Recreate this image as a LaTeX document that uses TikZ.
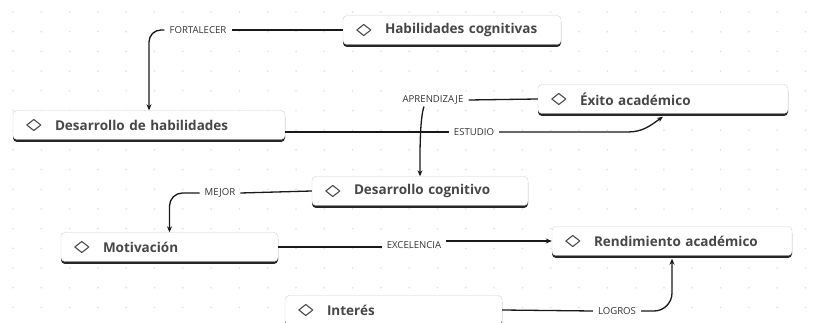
\documentclass[tikz,border=0pt]{standalone}
\usepackage{fontspec}
\setmainfont{Open Sans}
\usetikzlibrary{arrows.meta,shadows}

\tikzset{
  box/.style={draw=black!18, fill=white, rounded corners=4pt, minimum height=29pt,
    inner xsep=13pt, align=left, text=black!72,
    font=\bfseries\fontsize{13.5}{15}\selectfont,
    drop shadow={shadow xshift=0pt, shadow yshift=-2.5pt, fill=black!85, opacity=1}},
  lbl/.style={inner xsep=5pt, inner ysep=2pt, text=black!80, font=\fontsize{9.6}{11}\selectfont},
  conn/.style={draw=black!90, line width=1.3pt},
  arr/.style={conn, -{Stealth[length=6pt,width=5pt]}},
  diam/.style={draw=black!70, line width=1.1pt, line join=round},
  dot/.style={fill=black!12}
}
\newcommand{\dia}{\hspace{29pt}}

\begin{document}
\begin{tikzpicture}[x=1pt,y=1pt]

  \path[use as bounding box, clip] (0,0) rectangle (828,-323);
  \fill[white] (0,0) rectangle (828,-323);

  % fondo de puntos
  \foreach \i in {0,...,29}
    \foreach \j in {0,...,16}
      \fill[dot] (13+28.3*\i,-12-19.7*\j) circle (0.9pt);

  % conceptos
  \node[box, text width=192pt] (hab)   at (452,-30)   {\dia Habilidades cognitivas};
  \node[box, text width=246pt] (dhab)  at (149,-125)  {\dia Desarrollo de habilidades};
  \node[box, text width=224pt] (exito) at (663,-99)   {\dia Éxito académico};
  \node[box, text width=190pt] (dcog)  at (420,-191)  {\dia Desarrollo cognitivo};
  \node[box, text width=191pt] (motiv) at (169.5,-247) {\dia Motivación};
  \node[box, text width=214pt] (rend)  at (672,-241)  {\dia Rendimiento académico};
  \node[box, text width=191pt] (inter) at (393.5,-310) {\dia Interés};

  % rombos
  \foreach \n in {hab,dhab,exito,dcog,motiv,rend,inter}
    \draw[diam] ([xshift=14pt]\n.west) -- ++(7,5.5) -- ++(7,-5.5) -- ++(-7,-5.5) -- cycle;

  % etiquetas
  \node[lbl] (fort)    at (198,-30)  {FORTALECER};
  \node[lbl] (aprend)  at (433,-100) {APRENDIZAJE};
  \node[lbl] (estudio) at (474,-132) {ESTUDIO};
  \node[lbl] (mejor)   at (220,-193) {MEJOR};
  \node[lbl] (excel)   at (414,-245) {EXCELENCIA};
  \node[lbl] (logros)  at (617,-311) {LOGROS};

  % relaciones
  \draw[conn] (hab.west) -- (fort.east);
  \draw[arr, rounded corners=12pt] (fort.west) -| (dhab.north);

  \draw[conn] (exito.west) -- (aprend.east);
  \draw[arr] ([xshift=-9pt]aprend.south) to[out=-110,in=90,looseness=0.5] (dcog.north);

  \draw[conn] (dhab.east |- estudio.west) -- (estudio.west);
  \draw[arr] (estudio.east) -- ([xshift=-35pt]exito.south |- estudio.east)
    to[out=0,in=-145] ([yshift=-3pt]exito.south);

  \draw[conn] (dcog.west) -- (mejor.east);
  \draw[arr, rounded corners=13pt] (mejor.west) -| (motiv.north);

  \draw[conn] (motiv.east) -- (motiv.east -| excel.west);
  \draw[arr] (excel.east |- rend.west) -- (rend.west);

  \draw[conn] (inter.east) -- (logros.west);
  \draw[arr, rounded corners=18pt] (logros.east) -| ([yshift=-3pt]rend.south);

\end{tikzpicture}
\end{document}
